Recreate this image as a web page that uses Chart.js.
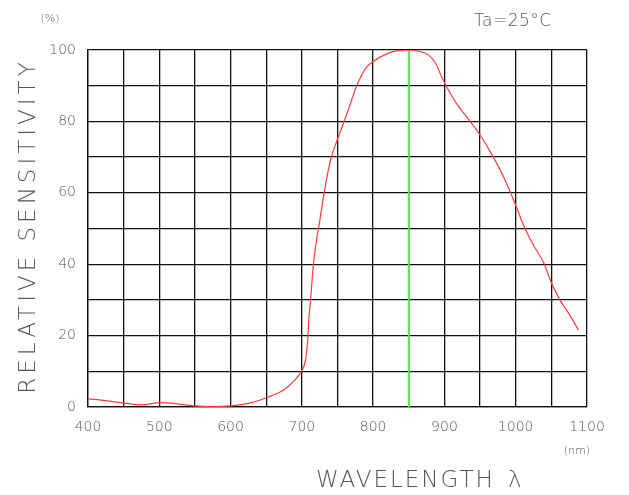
<!DOCTYPE html>
<html>
<head>
<meta charset="utf-8">
<script src="https://cdn.jsdelivr.net/npm/chart.js@4.4.0/dist/chart.umd.min.js"></script>
<style>
  html, body { margin: 0; padding: 0; background: #fff; }
  #wrap { width: 629px; height: 495px; position: relative; }
</style>
</head>
<body>
<div id="wrap"><canvas id="sensChart" width="629" height="495"></canvas></div>
<script>
// Wavelength (nm) and relative sensitivity (%)
const wavelengths = [400, 425, 450, 475, 500, 525, 550, 575, 600, 625, 650, 675, 690, 700, 705, 708, 710, 713, 716, 720, 725, 730, 740, 750, 763, 777, 790, 800, 820, 835, 850, 865, 877, 887, 896, 905, 917, 936, 950, 968, 985, 1000, 1013, 1025, 1039, 1050, 1062, 1075, 1088];
const sensitivity = [2.3, 1.8, 1.1, 0.6, 1.2, 0.9, 0.3, 0.1, 0.3, 1.0, 2.6, 4.8, 7.5, 10.2, 13, 18, 25, 32, 39.5, 46, 52, 58.5, 69, 75, 82, 90, 95, 96.8, 99, 99.8, 100, 99.6, 98.7, 96.5, 92.5, 89, 85, 80, 76.2, 70.2, 63.6, 56.5, 50, 45.3, 40.5, 34.8, 30, 26, 21.6];

// Peak marker (green vertical line)
const peakWavelength = [850, 850];
const peakLine = [0, 100];

const xTickLabels = [400, 500, 600, 700, 800, 900, 1000, 1100];
const yTickLabels = [0, 20, 40, 60, 80, 100];

const curvePoints = wavelengths.map((w, i) => ({ x: w, y: sensitivity[i] }));
const peakPoints = peakWavelength.map((w, i) => ({ x: w, y: peakLine[i] }));

const labelFont = "'DejaVu Sans', sans-serif";
const textGrey = "#555";

// extra texts: units, condition, axis titles
const textPlugin = {
  id: "texts",
  afterDraw(chart) {
    const ctx = chart.ctx;
    ctx.save();
    ctx.fillStyle = textGrey;
    ctx.textBaseline = "middle";

    ctx.font = "300 11px " + labelFont;
    ctx.textAlign = "center";
    ctx.fillText("(%)", 50, 19);
    ctx.fillText("(nm)", 577, 451);

    ctx.font = "300 17px " + labelFont;
    ctx.letterSpacing = "0.5px";
    ctx.textAlign = "left";
    ctx.fillText("Ta=25°C", 474, 22);

    ctx.font = "300 23px " + labelFont;
    ctx.letterSpacing = "2px";
    ctx.fillText("WAVELENGTH", 316, 481);
    ctx.letterSpacing = "0px";
    ctx.fillText("λ", 508, 481);

    ctx.letterSpacing = "4px";
    ctx.textAlign = "center";
    ctx.translate(29, 226);
    ctx.rotate(-Math.PI / 2);
    ctx.fillText("RELATIVE SENSITIVITY", 0, 0);
    ctx.restore();
  },
};

const ctx = document.getElementById("sensChart").getContext("2d");
new Chart(ctx, {
  type: "scatter",
  data: {
    datasets: [
      {
        label: "Sensitivity",
        data: curvePoints,
        showLine: true,
        borderColor: "#ff3b3b",
        borderWidth: 1.2,
        pointRadius: 0,
        cubicInterpolationMode: "monotone",
      },
      {
        label: "Peak",
        data: peakPoints,
        showLine: true,
        borderColor: "#5fe650",
        borderWidth: 2,
        pointRadius: 0,
      },
    ],
  },
  options: {
    responsive: false,
    animation: false,
    layout: { padding: { left: 0, top: 50, right: 42, bottom: 0 } },
    plugins: { legend: { display: false }, tooltip: { enabled: false } },
    scales: {
      x: {
        type: "linear",
        min: 400,
        max: 1100,
        afterFit(scale) { scale.height = 88; },
        afterBuildTicks(scale) {
          const t = [];
          for (let v = 400; v <= 1100; v += 50) t.push({ value: v });
          scale.ticks = t;
        },
        ticks: {
          autoSkip: false,
          maxRotation: 0,
          padding: 12,
          color: textGrey,
          font: { family: labelFont, size: 14, weight: 300 },
          callback: (v) => (xTickLabels.includes(v) ? String(v) : ""),
        },
        grid: { color: "#111", lineWidth: 1.3, drawTicks: false },
        border: { color: "#111", width: 1.3 },
      },
      y: {
        min: 0,
        max: 100,
        afterFit(scale) { scale.width = 88; },
        afterBuildTicks(scale) {
          const t = [];
          for (let v = 0; v <= 100; v += 10) t.push({ value: v });
          scale.ticks = t;
        },
        ticks: {
          autoSkip: false,
          padding: 12,
          color: textGrey,
          font: { family: labelFont, size: 14, weight: 300 },
          callback: (v) => (yTickLabels.includes(v) ? String(v) : ""),
        },
        grid: { color: "#111", lineWidth: 1.3, drawTicks: false },
        border: { color: "#111", width: 1.3 },
      },
    },
  },
  plugins: [textPlugin],
});
</script>
</body>
</html>
